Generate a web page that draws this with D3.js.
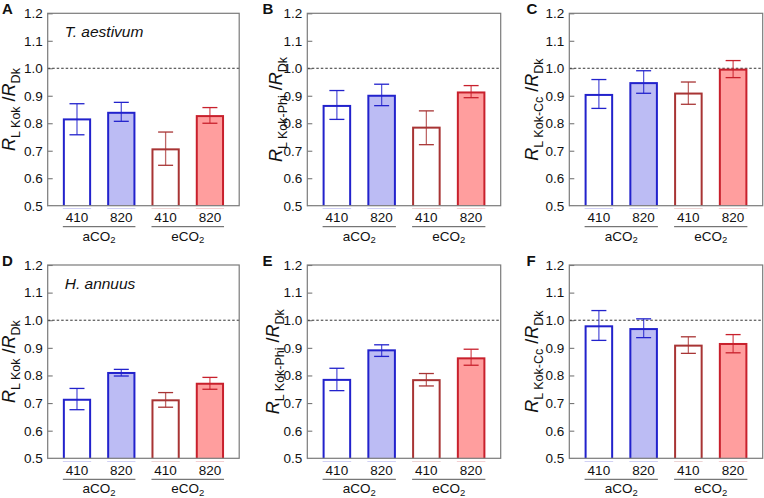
<!DOCTYPE html>
<html><head><meta charset="utf-8">
<script src="https://cdn.jsdelivr.net/npm/d3@7"></script>
<style>
html,body{margin:0;padding:0;background:#fff;}
svg text{font-family:"Liberation Sans",Arial,sans-serif;}
</style></head>
<body><svg id="chart" width="764" height="498"></svg>
<script>
// ---- data ----
const panelLetters = ["A","B","C","D","E","F"];
const speciesLabels = ["T. aestivum","","","H. annuus","",""];
const titleSubs = ["L Kok","L Kok-Phi","L Kok-Cc","L Kok","L Kok-Phi","L Kok-Cc"];
const categories = ["410","820","410","820"];
const groups = ["aCO2","eCO2"];
const yTicks = [0.5,0.6,0.7,0.8,0.9,1.0,1.1,1.2];

const meanA = [0.814,0.838,0.705,0.826];
const lowA  = [0.758,0.807,0.647,0.800];
const highA = [0.871,0.876,0.768,0.857];

const meanB = [0.863,0.900,0.784,0.912];
const lowB  = [0.814,0.864,0.722,0.893];
const highB = [0.919,0.942,0.845,0.937];

const meanC = [0.903,0.946,0.908,0.995];
const lowC  = [0.854,0.909,0.869,0.966];
const highC = [0.959,0.991,0.950,1.028];

const meanD = [0.712,0.809,0.710,0.770];
const lowD  = [0.676,0.798,0.685,0.750];
const highD = [0.753,0.822,0.738,0.793];

const meanE = [0.784,0.891,0.783,0.862];
const lowE  = [0.745,0.869,0.762,0.837];
const highE = [0.826,0.911,0.807,0.895];

const meanF = [0.978,0.968,0.908,0.914];
const lowF  = [0.927,0.937,0.880,0.882];
const highF = [1.035,1.005,0.940,0.948];

const means = [meanA,meanB,meanC,meanD,meanE,meanF];
const lows  = [lowA,lowB,lowC,lowD,lowE,lowF];
const highs = [highA,highB,highC,highD,highE,highF];

// ---- styles / layout ----
const strokeCols = ["#2222cc","#2222cc","#a83434","#c8202c"];
const fillCols   = ["#ffffff","#bcbcf4","#ffffff","#ff9e9e"];
const frames = [
  {x:47.7, y:13.3, w:191.5, h:192.4, tx:15, lx:2,   ly:14},
  {x:307.3,y:13.3, w:193.4, h:192.4, tx:282,lx:262.5,ly:14},
  {x:569.3,y:13.3, w:193.4, h:192.4, tx:538,lx:526.5,ly:14},
  {x:47.7, y:265,  w:191.5, h:193.3, tx:15, lx:2,   ly:266},
  {x:307.3,y:265,  w:193.4, h:193.3, tx:279,lx:262.5,ly:266},
  {x:569.3,y:265,  w:193.4, h:193.3, tx:538,lx:526.5,ly:266}
];

const svg = d3.select("#chart");

frames.forEach((f,pi)=>{
  const g = svg.append("g").attr("transform",`translate(${f.x},${f.y})`);
  const x = d3.scaleBand().domain(d3.range(categories.length)).range([0,f.w])
    .paddingInner(0.362).paddingOuter(0.342);
  const y = d3.scaleLinear().domain([0.5,1.2]).range([f.h,0]);

  // y axis with inward ticks
  const ax = g.append("g").call(d3.axisLeft(y).tickValues(yTicks)
      .tickFormat(d3.format(".1f")).tickSizeInner(-5).tickSizeOuter(0).tickPadding(5));
  ax.select(".domain").remove();
  ax.selectAll("line").attr("stroke","#777").attr("stroke-width",1.1);
  ax.selectAll("text").attr("font-size",13.5).attr("fill","#111")
    .attr("font-family","'Liberation Sans',Arial,sans-serif");

  // reference line at 1.0
  g.append("line").attr("x1",0).attr("x2",f.w).attr("y1",y(1.0)).attr("y2",y(1.0))
    .attr("stroke","#333").attr("stroke-width",1).attr("stroke-dasharray","2.5,2");

  // bars
  const bw = x.bandwidth();
  const m = means[pi], lo = lows[pi], hi = highs[pi];
  g.selectAll("rect.bar").data(m).join("rect").attr("class","bar")
    .attr("x",(d,i)=>x(i)+1).attr("width",bw-2)
    .attr("y",d=>y(d)).attr("height",d=>f.h-y(d)+2)
    .attr("fill",(d,i)=>fillCols[i]).attr("stroke",(d,i)=>strokeCols[i]).attr("stroke-width",2);

  // error bars
  const cap = 7.5;
  m.forEach((d,i)=>{
    const cx = x(i)+bw/2;
    const eg = g.append("g").attr("stroke",strokeCols[i]).attr("stroke-width",1.3);
    eg.append("line").attr("x1",cx).attr("x2",cx).attr("y1",y(lo[i])).attr("y2",y(hi[i])).attr("stroke-opacity",0.75);
    eg.append("line").attr("x1",cx-cap).attr("x2",cx+cap).attr("y1",y(lo[i])).attr("y2",y(lo[i]));
    eg.append("line").attr("x1",cx-cap).attr("x2",cx+cap).attr("y1",y(hi[i])).attr("y2",y(hi[i]));
  });

  // frame (clip bar bottoms)
  g.append("rect").attr("x",0).attr("y",f.h).attr("width",f.w).attr("height",3).attr("fill","#fff");
  g.append("rect").attr("x",0).attr("y",0).attr("width",f.w).attr("height",f.h)
    .attr("fill","none").attr("stroke","#7a7a7a").attr("stroke-width",1.2);

  // category labels
  g.selectAll("text.cat").data(categories).join("text").attr("class","cat")
    .attr("x",(d,i)=>x(i)+bw/2).attr("y",f.h+16.5).attr("text-anchor","middle")
    .attr("font-size",13.5).attr("fill","#111").text(d=>d);

  // group lines and labels
  groups.forEach((gl,gi)=>{
    const x0 = x(gi*2), x1 = x(gi*2+1)+bw;
    g.append("line").attr("x1",x0).attr("x2",x1).attr("y1",f.h+21).attr("y2",f.h+21)
      .attr("stroke","#555").attr("stroke-width",1);
    const t = g.append("text").attr("x",(x0+x1)/2).attr("y",f.h+35).attr("text-anchor","middle")
      .attr("font-size",13.5).attr("fill","#111");
    t.append("tspan").text(gl.slice(0,-1));
    t.append("tspan").attr("font-size",9.5).attr("dy",2.5).text(gl.slice(-1));
  });

  // species label
  if (speciesLabels[pi]) {
    g.append("text").attr("x",17).attr("y",23.5).attr("font-size",15.5)
      .attr("font-style","italic").attr("fill","#111").text(speciesLabels[pi]);
  }

  // y title
  const tt = svg.append("text")
    .attr("transform",`translate(${f.tx},${f.y+f.h/2}) rotate(-90)`)
    .attr("text-anchor","middle").attr("fill","#111").attr("font-size",18);
  tt.append("tspan").attr("font-style","italic").text("R");
  tt.append("tspan").attr("font-size",12.5).attr("dy",4.5).text(titleSubs[pi]);
  tt.append("tspan").attr("dy",-4.5).text(" /");
  tt.append("tspan").attr("font-style","italic").text("R");
  tt.append("tspan").attr("font-size",12.5).attr("dy",4.5).text("Dk");

  // panel letter
  svg.append("text").attr("x",f.lx).attr("y",f.ly).attr("font-size",15)
    .attr("font-weight","bold").attr("fill","#111").text(panelLetters[pi]);
});
</script></body></html>
